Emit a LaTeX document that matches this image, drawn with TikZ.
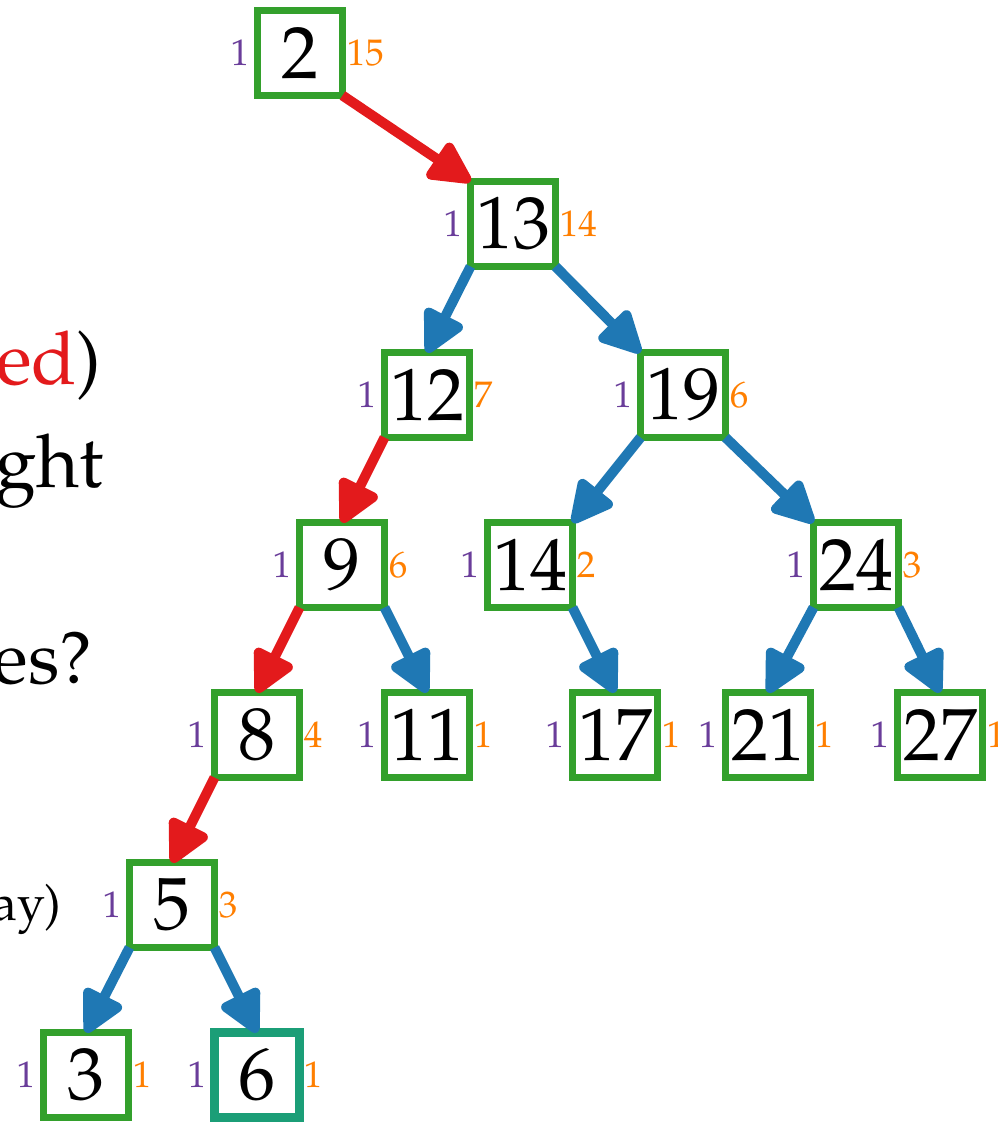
\documentclass[tikz,border=0pt]{standalone}
\usepackage[T1]{fontenc}
\renewcommand{\rmdefault}{ppl}
\usetikzlibrary{arrows.meta}
\definecolor{cbred}{HTML}{E31A1C}
\definecolor{cbblue}{HTML}{1F78B4}
\definecolor{cbgreen}{HTML}{33A02C}
\definecolor{cbteal}{HTML}{1B9E77}
\definecolor{cbpurple}{HTML}{6A3D9A}
\definecolor{cborange}{HTML}{FF7F00}
\tikzset{
  keybox/.style={draw=cbgreen, line width=3.25pt, minimum size=42.5pt, inner sep=0pt, outer sep=0pt,
    font=\fontsize{37}{40}\selectfont, fill=white},
  lastbox/.style={keybox, draw=cbteal, line width=4.4pt},
  leftlab/.style={anchor=east, inner sep=0pt, text=cbpurple, font=\fontsize{18.5}{20}\selectfont},
  rightlab/.style={anchor=west, inner sep=0pt, text=cborange, font=\fontsize{18.5}{20}\selectfont},
  edgebase/.style={line width=5pt, -{Triangle[length=24pt,width=23pt,round]}},
  hot/.style={edgebase, draw=cbred, fill=cbred},
  cold/.style={edgebase, draw=cbblue, fill=cbblue},
  bigtext/.style={anchor=base east, inner sep=0pt, font=\fontsize{37}{40}\selectfont},
  smalltext/.style={anchor=base east, inner sep=0pt, font=\fontsize{25}{28}\selectfont},
}
\newcommand{\treenode}[4][keybox]{%
  \node[#1] (n#2) at (#3) {#2};
  \node[leftlab] (l#2) at ([xshift=-4pt]n#2.west) {1};
  \node[rightlab] (r#2) at ([xshift=2pt]n#2.east) {#4};
}
\begin{document}
\begin{tikzpicture}[x=0.5pt,y=-0.5pt]
\useasboundingbox (0,0) rectangle (997,1122);
\clip (0,0) rectangle (997,1122);
\fill[white] (0,0) rectangle (997,1122);

% partial text at the left edge
\node[bigtext] (t1) at (102,385) {\textcolor{cbred}{ed})};
\node[bigtext] (t2) at (104,487) {ght};
\node[bigtext] (t3) at (93,683) {es?};
\node[smalltext] (t4) at (62,920) {ay)};

% tree nodes
\treenode{2}{300,53}{15}
\treenode{13}{513,224}{14}
\treenode{12}{427,395}{7}
\treenode{19}{683,395}{6}
\treenode{9}{342,565}{6}
\treenode{14}{530,565}{2}
\treenode{24}{856,565}{3}
\treenode{8}{257,735}{4}
\treenode{11}{427,735}{1}
\treenode{17}{615,735}{1}
\treenode{21}{768,735}{1}
\treenode{27}{940,735}{1}
\treenode{5}{172,905}{3}
\treenode{3}{86,1075}{1}
\treenode[lastbox]{6}{257,1075}{1}

% connectors
\draw[hot] (n2.south east) -- (n13.north west);
\draw[cold] (n13.south west) -- (n12.north);
\draw[cold] (n13.south east) -- (n19.north west);
\draw[hot] (n12.south west) -- (n9.north);
\draw[cold] (n19.south west) -- (n14.north east);
\draw[cold] (n19.south east) -- (n24.north west);
\draw[hot] (n9.south west) -- (n8.north);
\draw[cold] (n9.south east) -- (n11.north);
\draw[cold] (n14.south east) -- (n17.north);
\draw[cold] (n24.south west) -- (n21.north);
\draw[cold] (n24.south east) -- (n27.north);
\draw[hot] (n8.south west) -- (n5.north);
\draw[cold] (n5.south west) -- (n3.north);
\draw[cold] (n5.south east) -- (n6.north);
\end{tikzpicture}
\end{document}
